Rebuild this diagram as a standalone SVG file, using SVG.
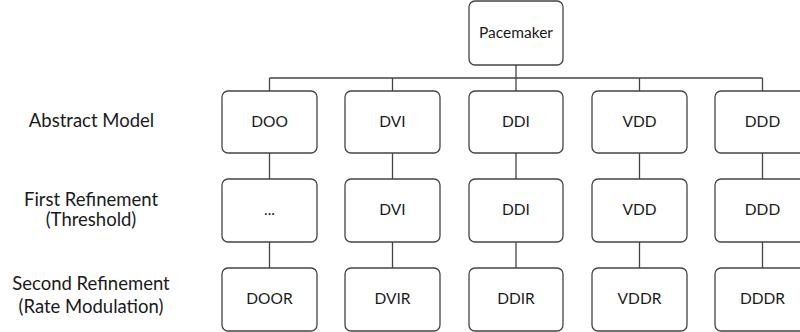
<svg xmlns="http://www.w3.org/2000/svg" width="800" height="332" viewBox="0 0 800 332">
<style>
.box{fill:#fff;stroke:#444;stroke-width:1.3}
.lbl{font-family:Lato,"Liberation Sans",sans-serif;font-size:15.5px;fill:#1a1a1a;text-anchor:middle}
.side{font-family:Lato,"Liberation Sans",sans-serif;font-size:18.5px;fill:#1a1a1a;text-anchor:middle}
.conn{fill:none;stroke:#444;stroke-width:1.3}
</style>
<rect width="800" height="332" fill="#fff"/>
<g id="connectors" class="conn">
<path d="M516 65V78M269.5 78H762.5M269.5 78V91M392.5 78V91M516 78V91M639.5 78V91M762.5 78V91"/>
<path d="M269.5 153V179M392.5 153V179M516 153V179M639.5 153V179M762.5 153V179"/>
<path d="M269.5 242V268M392.5 242V268M516 242V268M639.5 242V268M762.5 242V268"/>
</g>
<g id="side-labels">
<text class="side" x="91.5" y="127">Abstract Model</text>
<text class="side" x="91" y="206">First Refinement</text>
<text class="side" x="91" y="226">(Threshold)</text>
<text class="side" x="91" y="290">Second Refinement</text>
<text class="side" x="91" y="313">(Rate Modulation)</text>
</g>
<g id="pacemaker"><rect class="box" x="469" y="1" width="94" height="64" rx="6"/><text class="lbl" x="516" y="38">Pacemaker</text></g>
<g id="doo"><rect class="box" x="222" y="91" width="95" height="62" rx="6"/><text class="lbl" x="269.5" y="127">DOO</text></g>
<g id="dvi1"><rect class="box" x="345" y="91" width="95" height="62" rx="6"/><text class="lbl" x="392.5" y="127">DVI</text></g>
<g id="ddi1"><rect class="box" x="469" y="91" width="94" height="62" rx="6"/><text class="lbl" x="516" y="127">DDI</text></g>
<g id="vdd1"><rect class="box" x="592" y="91" width="95" height="62" rx="6"/><text class="lbl" x="639.5" y="127">VDD</text></g>
<g id="ddd1"><rect class="box" x="715" y="91" width="95" height="62" rx="6"/><text class="lbl" x="762.5" y="127">DDD</text></g>
<g id="dots2"><rect class="box" x="222" y="179" width="95" height="63" rx="6"/><text class="lbl" x="269.5" y="215">...</text></g>
<g id="dvi2"><rect class="box" x="345" y="179" width="95" height="63" rx="6"/><text class="lbl" x="392.5" y="215">DVI</text></g>
<g id="ddi2"><rect class="box" x="469" y="179" width="94" height="63" rx="6"/><text class="lbl" x="516" y="215">DDI</text></g>
<g id="vdd2"><rect class="box" x="592" y="179" width="95" height="63" rx="6"/><text class="lbl" x="639.5" y="215">VDD</text></g>
<g id="ddd2"><rect class="box" x="715" y="179" width="95" height="63" rx="6"/><text class="lbl" x="762.5" y="215">DDD</text></g>
<g id="door"><rect class="box" x="222" y="268" width="95" height="63" rx="6"/><text class="lbl" x="269.5" y="304">DOOR</text></g>
<g id="dvir"><rect class="box" x="345" y="268" width="95" height="63" rx="6"/><text class="lbl" x="392.5" y="304">DVIR</text></g>
<g id="ddir"><rect class="box" x="469" y="268" width="94" height="63" rx="6"/><text class="lbl" x="516" y="304">DDIR</text></g>
<g id="vddr"><rect class="box" x="592" y="268" width="95" height="63" rx="6"/><text class="lbl" x="639.5" y="304">VDDR</text></g>
<g id="dddr"><rect class="box" x="715" y="268" width="95" height="63" rx="6"/><text class="lbl" x="762.5" y="304">DDDR</text></g>
</svg>
